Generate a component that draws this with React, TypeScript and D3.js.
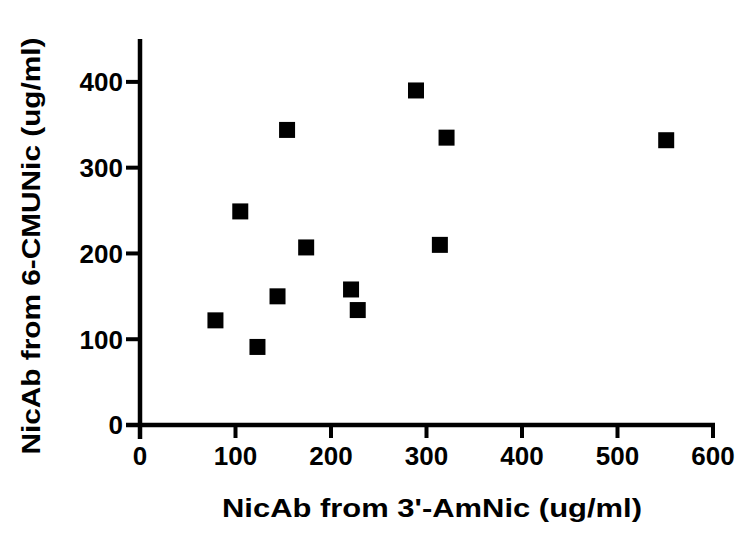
import React from 'react';
import * as d3 from 'd3';

// values
const xValues = [79, 105, 123, 144, 154, 174, 221, 228, 289, 314, 321, 551];
const yValues = [122, 249, 91, 150, 344, 207, 158, 134, 390, 210, 335, 332];
const xTicks = [0, 100, 200, 300, 400, 500, 600];
const yTicks = [0, 100, 200, 300, 400];
const xTitle = "NicAb from 3'-AmNic (ug/ml)";
const yTitle = 'NicAb from 6-CMUNic (ug/ml)';

const width = 750;
const height = 537;
const font = '"Liberation Sans", Arial, sans-serif';

const App = () => {
    const x = d3.scaleLinear().domain([0, 600]).range([140, 713]);
    const y = d3.scaleLinear().domain([0, 450]).range([425, 39]);
    const size = 16;
    const points = xValues.map((v, i) => ({ x: v, y: yValues[i] }));

    return (
        <svg width={width} height={height}
            style={{ position: 'absolute', left: 0, top: 0, background: '#fff' }}>
            {/* y axis */}
            <line x1={x(0)} x2={x(0)} y1={y(450)} y2={y(0) + 14} stroke="#000" strokeWidth={4.5} />
            {yTicks.map(t => (
                <g key={'y' + t}>
                    <line x1={x(0) - 14} x2={x(0)} y1={y(t)} y2={y(t)} stroke="#000" strokeWidth={4} />
                    <text x={x(0) - 17} y={y(t)} dy="0.36em" textAnchor="end"
                        fontFamily={font} fontWeight="bold" fontSize={26}>{t}</text>
                </g>
            ))}
            {/* x axis */}
            <line x1={x(0) - 14} x2={x(600) + 2} y1={y(0)} y2={y(0)} stroke="#000" strokeWidth={4.5} />
            {xTicks.map(t => (
                <g key={'x' + t}>
                    <line x1={x(t)} x2={x(t)} y1={y(0)} y2={y(0) + 13} stroke="#000" strokeWidth={4} />
                    <text x={x(t)} y={y(0) + 40} textAnchor="middle"
                        fontFamily={font} fontWeight="bold" fontSize={26}>{t}</text>
                </g>
            ))}
            {/* markers */}
            {points.map((d, i) => (
                <rect key={i} x={x(d.x) - size / 2} y={y(d.y) - size / 2}
                    width={size} height={size} fill="#000" />
            ))}
            {/* titles */}
            <text x={432} y={517} textAnchor="middle" textLength={420} lengthAdjust="spacingAndGlyphs"
                fontFamily={font} fontWeight="bold" fontSize={26}>{xTitle}</text>
            <text transform={`translate(40,${246}) rotate(-90)`} textAnchor="middle"
                textLength={417} lengthAdjust="spacingAndGlyphs"
                fontFamily={font} fontWeight="bold" fontSize={26}>{yTitle}</text>
        </svg>
    );
};

export default App;
